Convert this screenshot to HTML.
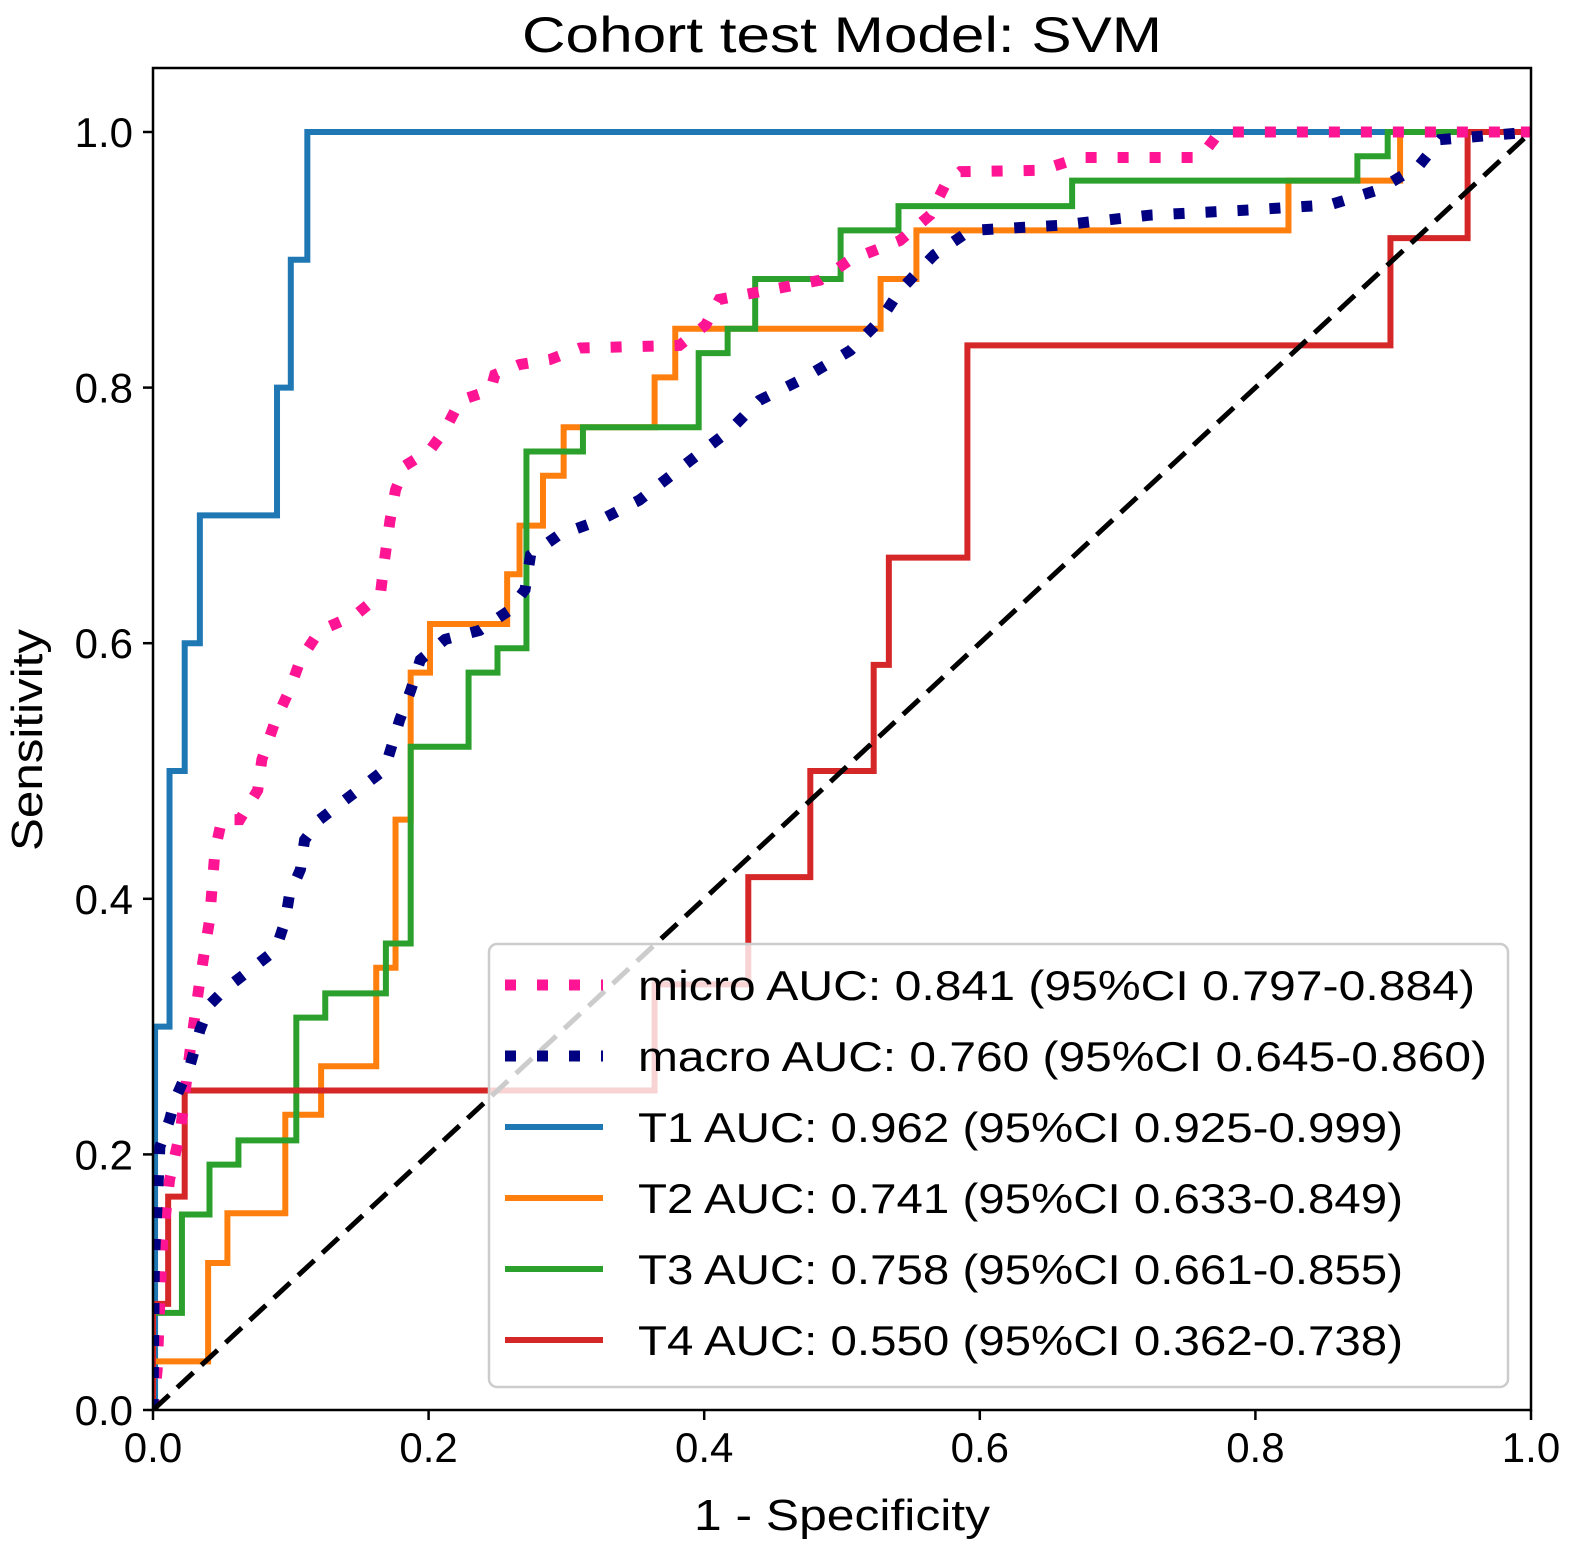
<!DOCTYPE html>
<html><head><meta charset="utf-8"><style>
html,body{margin:0;padding:0;background:#fff;}
svg{display:block;font-family:"Liberation Sans",sans-serif;}
</style></head><body>
<svg id="chart" width="1575" height="1554" viewBox="0 0 1575 1554" xmlns="http://www.w3.org/2000/svg">
<rect width="1575" height="1554" fill="#fff"/>
<text x="842" y="52" font-size="50" text-anchor="middle" textLength="640" lengthAdjust="spacingAndGlyphs">Cohort test Model: SVM</text>
<g id="plot"></g>
<text x="842" y="1530" font-size="44" text-anchor="middle" textLength="296" lengthAdjust="spacingAndGlyphs">1 - Specificity</text>
<text x="0" y="0" font-size="44" text-anchor="middle" transform="translate(42,740) rotate(-90)" textLength="222" lengthAdjust="spacingAndGlyphs">Sensitivity</text>
</svg>
<script>
const xTicks=[0,0.2,0.4,0.6,0.8,1.0];
const yTicks=[0,0.2,0.4,0.6,0.8,1.0];
const tickLabels=["0.0","0.2","0.4","0.6","0.8","1.0"];
const microFpr=[0,0.003,0.005,0.007,0.012,0.020,0.027,0.034,0.041,0.045,0.050,0.063,0.076,0.079,0.089,0.099,0.107,0.121,0.147,0.165,0.168,0.172,0.176,0.183,0.201,0.212,0.223,0.245,0.248,0.266,0.288,0.310,0.382,0.401,0.411,0.455,0.484,0.506,0.542,0.564,0.575,0.586,0.644,0.673,0.760,0.774,1];
const microTpr=[0,0.031,0.086,0.133,0.180,0.219,0.282,0.336,0.383,0.438,0.462,0.462,0.485,0.509,0.540,0.563,0.587,0.610,0.622,0.638,0.665,0.696,0.720,0.739,0.751,0.767,0.790,0.798,0.810,0.818,0.822,0.831,0.833,0.849,0.869,0.878,0.884,0.900,0.915,0.935,0.959,0.969,0.970,0.980,0.980,1,1];
const macroFpr=[0,0.001,0.005,0.012,0.016,0.027,0.034,0.041,0.052,0.070,0.089,0.096,0.099,0.107,0.110,0.121,0.139,0.168,0.179,0.187,0.194,0.212,0.237,0.259,0.270,0.274,0.295,0.324,0.353,0.390,0.419,0.440,0.470,0.506,0.528,0.542,0.567,0.593,0.658,0.724,0.796,0.854,0.890,0.919,0.934,1];
const macroTpr=[0,0.117,0.206,0.227,0.243,0.270,0.297,0.317,0.329,0.344,0.360,0.383,0.403,0.423,0.446,0.462,0.477,0.501,0.540,0.563,0.587,0.603,0.610,0.626,0.642,0.669,0.685,0.696,0.712,0.743,0.767,0.790,0.806,0.829,0.853,0.876,0.904,0.923,0.927,0.935,0.939,0.943,0.955,0.974,0.994,1];
const t1Fpr=[0,0.0015,0.012,0.023,0.034,0.090,0.100,0.112,1];
const t1Tpr=[0,0.3,0.5,0.6,0.7,0.8,0.9,1.0,1.0];
const t2Fpr=[0,0,0.040,0.054,0.096,0.122,0.162,0.176,0.187,0.201,0.257,0.266,0.283,0.298,0.364,0.379,0.528,0.554,0.824,0.905,1];
const t2Tpr=[0,0.038,0.115,0.154,0.231,0.269,0.346,0.462,0.577,0.615,0.654,0.692,0.731,0.769,0.808,0.846,0.885,0.923,0.962,1.0,1.0];
const t3Fpr=[0,0,0.021,0.041,0.062,0.104,0.125,0.169,0.187,0.229,0.250,0.271,0.312,0.396,0.417,0.437,0.499,0.541,0.667,0.874,0.896,1];
const t3Tpr=[0,0.076,0.153,0.192,0.211,0.307,0.326,0.365,0.519,0.577,0.596,0.750,0.769,0.827,0.846,0.885,0.923,0.942,0.962,0.981,1.0,1.0];
const t4Fpr=[0,0,0.011,0.023,0.364,0.432,0.477,0.523,0.534,0.591,0.898,0.954,1];
const t4Tpr=[0,0.083,0.167,0.25,0.333,0.417,0.5,0.583,0.667,0.833,0.917,1.0,1.0];
const legendLabels=["micro AUC: 0.841 (95%CI 0.797-0.884)","macro AUC: 0.760 (95%CI 0.645-0.860)","T1 AUC: 0.962 (95%CI 0.925-0.999)","T2 AUC: 0.741 (95%CI 0.633-0.849)","T3 AUC: 0.758 (95%CI 0.661-0.855)","T4 AUC: 0.550 (95%CI 0.362-0.738)"];

const NS="http://www.w3.org/2000/svg";
const X0=153,X1=1531,Y0=1410,Y1=132;
const sx=v=>X0+v*(X1-X0);
const sy=v=>Y0-v*(Y0-Y1);
const g=document.getElementById('plot');
function mk(tag,attrs,parent){const e=document.createElementNS(NS,tag);for(const k in attrs)e.setAttribute(k,attrs[k]);(parent||g).appendChild(e);return e;}
function stepPath(fx,fy){let d='M'+sx(fx[0])+','+sy(fy[0]);for(let i=1;i<fx.length;i++){d+=' L'+sx(fx[i])+','+sy(fy[i-1])+' L'+sx(fx[i])+','+sy(fy[i]);}return d;}
function linePath(fx,fy){return fx.map((v,i)=>(i?'L':'M')+sx(v)+','+sy(fy[i])).join(' ');}

const clip=mk('clipPath',{id:'pc'});mk('rect',{x:X0,y:68,width:X1-X0,height:Y0-68},clip);
const series=mk('g',{'clip-path':'url(#pc)'});
let p;
p=mk('path',{d:stepPath(t1Fpr,t1Tpr),fill:'none',stroke:'#1f77b4','stroke-width':6},series);


p=mk('path',{d:stepPath(t2Fpr,t2Tpr),fill:'none',stroke:'#ff7f0e','stroke-width':6},series);


p=mk('path',{d:stepPath(t3Fpr,t3Tpr),fill:'none',stroke:'#2ca02c','stroke-width':6},series);


p=mk('path',{d:stepPath(t4Fpr,t4Tpr),fill:'none',stroke:'#d62728','stroke-width':6},series);


p=mk('path',{d:linePath(microFpr,microTpr),fill:'none',stroke:'deeppink','stroke-width':11,'stroke-dasharray':'11 21'},series);


p=mk('path',{d:linePath(macroFpr,macroTpr),fill:'none',stroke:'navy','stroke-width':11,'stroke-dasharray':'11 21'},series);


p=mk('line',{x1:sx(0),y1:sy(0),x2:sx(1),y2:sy(1),stroke:'#000','stroke-width':5,'stroke-dasharray':'22 11'},series);



p=mk('rect',{x:X0,y:68,width:X1-X0,height:Y0-68,fill:'none',stroke:'#000','stroke-width':2.5});


xTicks.forEach((v,i)=>{
  const t=mk('line',{x1:sx(v),y1:Y0,x2:sx(v),y2:Y0+10,stroke:'#000','stroke-width':2.5});
  
  
  const l=mk('text',{x:sx(v),y:Y0+52,'font-size':42,'text-anchor':'middle'});l.textContent=tickLabels[i];
  
  
});
yTicks.forEach((v,i)=>{
  const t=mk('line',{x1:X0-10,y1:sy(v),x2:X0,y2:sy(v),stroke:'#000','stroke-width':2.5});
  
  
  const l=mk('text',{x:X0-20,y:sy(v)+15,'font-size':42,'text-anchor':'end'});l.textContent=tickLabels[i];
  
  
});
const lg=mk('g',{});


mk('rect',{x:489,y:944,width:1019,height:443,rx:8,fill:'rgba(255,255,255,0.8)',stroke:'#cccccc','stroke-width':2.5},lg);
const styles=[{c:'deeppink',w:11,d:'11 21'},{c:'navy',w:11,d:'11 21'},{c:'#1f77b4',w:6,d:''},{c:'#ff7f0e',w:6,d:''},{c:'#2ca02c',w:6,d:''},{c:'#d62728',w:6,d:''}];
const widths=[837,849,765,765,765,765];
legendLabels.forEach((txt,i)=>{
  const y=985+i*71;
  const a={x1:505,y1:y,x2:603,y2:y,stroke:styles[i].c,'stroke-width':styles[i].w};
  if(styles[i].d)a['stroke-dasharray']=styles[i].d;
  const ln=mk('line',a,lg);
  
  
  const t=mk('text',{x:638,y:y+15,'font-size':42,textLength:widths[i],lengthAdjust:'spacingAndGlyphs'},lg);
  t.textContent=txt;
  
  
});
</script>
</body></html>
